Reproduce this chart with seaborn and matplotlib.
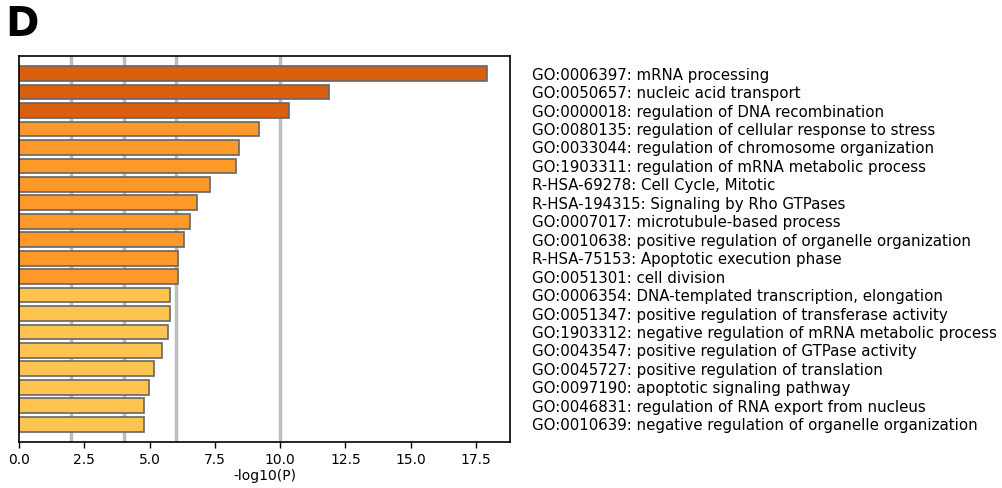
import matplotlib
matplotlib.use("Agg")
import matplotlib.pyplot as plt
import seaborn as sns
import pandas as pd

terms = [
    "GO:0006397: mRNA processing",
    "GO:0050657: nucleic acid transport",
    "GO:0000018: regulation of DNA recombination",
    "GO:0080135: regulation of cellular response to stress",
    "GO:0033044: regulation of chromosome organization",
    "GO:1903311: regulation of mRNA metabolic process",
    "R-HSA-69278: Cell Cycle, Mitotic",
    "R-HSA-194315: Signaling by Rho GTPases",
    "GO:0007017: microtubule-based process",
    "GO:0010638: positive regulation of organelle organization",
    "R-HSA-75153: Apoptotic execution phase",
    "GO:0051301: cell division",
    "GO:0006354: DNA-templated transcription, elongation",
    "GO:0051347: positive regulation of transferase activity",
    "GO:1903312: negative regulation of mRNA metabolic process",
    "GO:0043547: positive regulation of GTPase activity",
    "GO:0045727: positive regulation of translation",
    "GO:0097190: apoptotic signaling pathway",
    "GO:0046831: regulation of RNA export from nucleus",
    "GO:0010639: negative regulation of organelle organization",
]
logp = [17.92, 11.85, 10.34, 9.17, 8.44, 8.29, 7.33, 6.81, 6.53, 6.32,
        6.09, 6.09, 5.77, 5.77, 5.72, 5.49, 5.15, 4.97, 4.80, 4.80]
tier = ["high"] * 3 + ["mid"] * 9 + ["low"] * 8
palette = {"high": "#D95F0E", "mid": "#FE9929", "low": "#FEC44F"}
thresholds = [2, 4, 6, 10]

df = pd.DataFrame({"term": terms, "logp": logp, "tier": tier})

sns.set_style("white")
plt.rcParams["font.family"] = ["DejaVu Sans"]
plt.rcParams["text.color"] = "black"
plt.rcParams["axes.labelcolor"] = "black"
plt.rcParams["xtick.color"] = "black"
plt.rcParams["ytick.color"] = "black"

fig = plt.figure(figsize=(10.03, 4.88), dpi=100)
ax = fig.add_axes([0.019, 0.094, 0.4895, 0.791])

for t in thresholds:
    ax.axvline(t, color="#bdbdbd", lw=2.5, zorder=0)

sns.barplot(data=df, x="logp", y="term", hue="tier", palette=palette,
            dodge=False, width=0.8, saturation=1, edgecolor="#666666",
            linewidth=1.2, legend=False, ax=ax, zorder=2)

ax.set_xlim(0, 18.8)
ax.set_ylim(19.97, -0.95)
ax.set_xticks([0, 2.5, 5, 7.5, 10, 12.5, 15, 17.5])
ax.set_xticklabels(["0.0", "2.5", "5.0", "7.5", "10.0", "12.5", "15.0", "17.5"], fontsize=10)
ax.set_xlabel("-log10(P)", fontsize=10, labelpad=2)
ax.set_ylabel("")
ax.yaxis.tick_right()
ax.tick_params(axis="y", length=0, pad=16, labelsize=10.8)
ax.tick_params(axis="x", length=4, width=1, color="black", bottom=True)
for s in ax.spines.values():
    s.set_visible(True)
    s.set_color("black")
    s.set_linewidth(1.2)

fig.text(0.005, 0.99, "D", fontsize=29, fontweight="heavy", va="top", ha="left")

fig.savefig("out.png", dpi=100)
